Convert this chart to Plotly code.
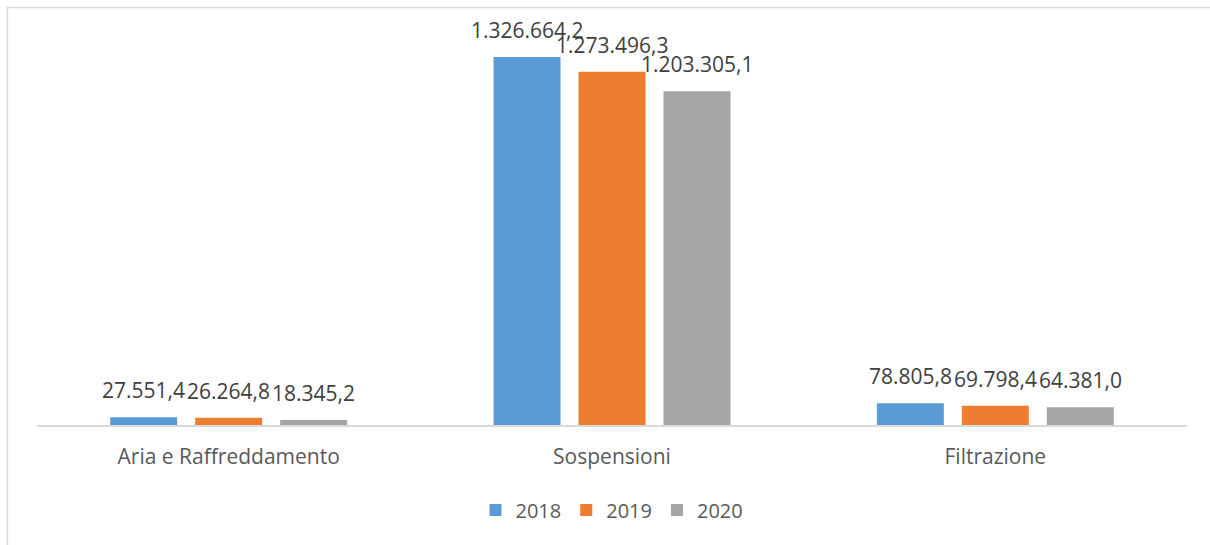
import plotly.graph_objects as go

categories = ["Aria e Raffreddamento", "Sospensioni", "Filtrazione"]
years = ["2018", "2019", "2020"]
values_2018 = [27551.4, 1326664.2, 78805.8]
values_2019 = [26264.8, 1273496.3, 69798.4]
values_2020 = [18345.2, 1203305.1, 64381.0]
series = [values_2018, values_2019, values_2020]
colors = ["#5B9BD5", "#ED7D31", "#A5A5A5"]

font_family = "Open Sans, Noto Sans, sans-serif"


def it_format(v):
    s = f"{v:,.1f}"
    return s.replace(",", "X").replace(".", ",").replace("X", ".")


fig = go.Figure()
annotations = []
slot_px = 85  # pixel distance between bars within a group
for i, (name, vals, col) in enumerate(zip(years, series, colors)):
    fig.add_trace(go.Bar(
        name=name, x=categories, y=vals, marker_color=col,
        marker_line_width=0,
    ))
    for cat, v in zip(categories, vals):
        annotations.append(dict(
            x=cat, y=v, xref="x", yref="y", text=it_format(v),
            showarrow=False, xanchor="center", yanchor="bottom",
            xshift=(i - 1) * slot_px, yshift=11,
            font=dict(size=21, color="#404040", family=font_family),
        ))

fig.update_layout(
    width=1210, height=545,
    margin=dict(l=37, r=23, t=20, b=120),
    paper_bgcolor="white", plot_bgcolor="white",
    separators=",.",
    barmode="group", bargap=0.335, bargroupgap=0.212,
    font=dict(family=font_family, color="#595959"),
    showlegend=True,
    legend=dict(orientation="h", x=0.5, xanchor="center", y=-0.21, yanchor="middle",
                font=dict(size=20, color="#595959"), itemwidth=30, traceorder="normal"),
    xaxis=dict(showline=True, linecolor="#d9d9d9", linewidth=1.5, showgrid=False,
               ticks="outside", ticklen=12, tickcolor="rgba(0,0,0,0)",
               tickfont=dict(size=21, color="#595959")),
    yaxis=dict(range=[0, 1460080], visible=False, showgrid=False, zeroline=False),
    annotations=annotations,
    shapes=[dict(type="rect", xref="paper", yref="paper",
                 x0=-0.0257, x1=1.1, y0=-0.6, y1=1.0309,
                 line=dict(color="#d9d9d9", width=1.5), layer="below")],
)

fig.write_html("out.html")
